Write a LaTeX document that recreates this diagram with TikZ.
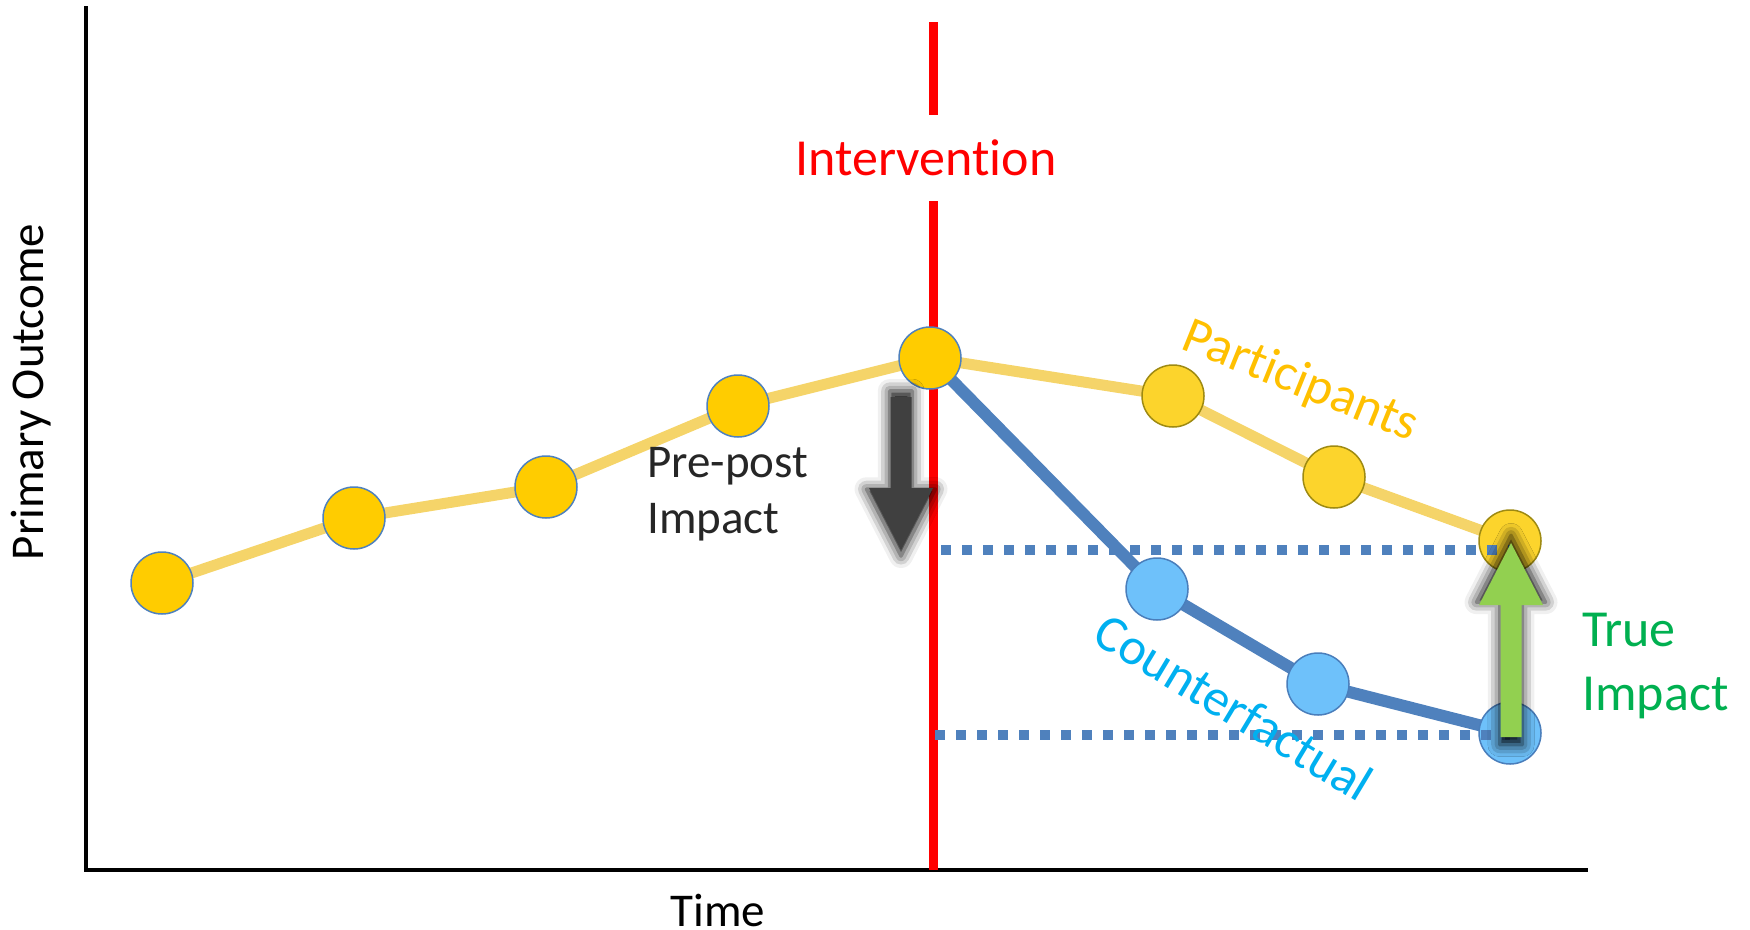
\documentclass[tikz,border=0pt]{standalone}
\usepackage{fontspec}
\setmainfont{Carlito}[Ligatures=NoCommon]
\usetikzlibrary{calc,shadows.blur}

\definecolor{preyellow}{HTML}{FFCC00}
\definecolor{preborder}{HTML}{4F81BD}
\definecolor{postyellow}{HTML}{FCD42C}
\definecolor{postborder}{HTML}{9E8A12}
\definecolor{cfblue}{HTML}{6EC1FA}
\definecolor{cfborder}{HTML}{4A7EBB}
\definecolor{trendline}{HTML}{F5D469}
\definecolor{cfline}{HTML}{4F81BD}
\definecolor{ptlabel}{HTML}{FFC000}
\definecolor{cflabel}{HTML}{00B0F0}
\definecolor{tilabel}{HTML}{00B050}
\definecolor{tiarrow}{HTML}{92D050}
\definecolor{pparrow}{HTML}{404040}

\tikzset{
  dot/.style={circle,minimum size=62pt,inner sep=0pt,line width=1.5pt},
  predot/.style={dot,fill=preyellow,draw=preborder},
  postdot/.style={dot,fill=postyellow,draw=postborder},
  cfdot/.style={dot,fill=cfblue,draw=cfborder},
  biglabel/.style={inner sep=0pt,font=\fontsize{52}{64}\selectfont},
  axlabel/.style={inner sep=0pt,font=\fontsize{47}{56}\selectfont},
  levelline/.style={cfline,line width=10pt,dash pattern=on 10pt off 11pt},
  blockshadow/.style={blur shadow={shadow xshift=0pt,shadow yshift=0pt,shadow scale=1.08,shadow blur radius=11pt,shadow opacity=95}}
}

\begin{document}
\begin{tikzpicture}[x=1pt,y=-1pt]
\useasboundingbox (0,0) rectangle (1750,929);
% axes
\coordinate (O) at (86,870);
\coordinate (ytop) at (86,6);
\coordinate (xend) at (1588,870);
\draw[line width=4.5pt] (ytop) -- (O) -- (xend);
\node[axlabel,rotate=90] (ylab) at (31,392) {Primary Outcome};
\node[axlabel] (xlab) at (718,910) {Time};
% intervention line
\coordinate (rtop) at (933,22);
\coordinate (rbot) at (933,870);
\node[biglabel,text=red,minimum height=86pt] (intv) at (926,158) {Intervention};
\draw[red,line width=9pt] (rtop) -- (rtop |- intv.north);
\draw[red,line width=9pt] (rbot |- intv.south) -- (rbot);
% point positions
\coordinate (p1) at (162,583);
\coordinate (p2) at (354,518);
\coordinate (p3) at (546,487);
\coordinate (p4) at (738,406);
\coordinate (p5) at (930,358);
\coordinate (q1) at (1173,396);
\coordinate (q2) at (1334,477);
\coordinate (q3) at (1510,541);
\coordinate (c1) at (1157,589);
\coordinate (c2) at (1318,684);
\coordinate (c3) at (1510,733);
\draw[trendline,line width=11pt] (p1) -- (p2) -- (p3) -- (p4) -- (p5) -- (q1) -- (q2) -- (q3);
\draw[cfline,line width=12pt] (p5) -- (c1) -- (c2) -- (c3);
% points
\node[predot] (p1) at (p1) {};
\node[predot] (p2) at (p2) {};
\node[predot] (p3) at (p3) {};
\node[predot] (p4) at (p4) {};
\node[predot] (p5) at (p5) {};
\node[postdot] (q1) at (q1) {};
\node[postdot] (q2) at (q2) {};
\node[postdot] (q3) at (q3) {};
\node[cfdot] (c1) at (c1) {};
\node[cfdot] (c2) at (c2) {};
\node[cfdot] (c3) at (c3) {};
% levels
\coordinate (hi) at (941,550);
\coordinate (lo) at (935,735);
\draw[levelline] (hi) -- (hi -| q3);
\draw[levelline] (lo) -- (lo -| c3);
% labels
\node[biglabel,text=ptlabel,rotate=-22] (ptl) at (1300,382) {Participants};
\node[biglabel,text=cflabel,rotate=-31] (cfl) at (1234,707) {Counterfactual};
\node[axlabel,text=black!85,align=left,anchor=north west] (ppl) at (647,447) {Pre-post\\Impact};
\node[biglabel,text=tilabel,align=left,anchor=north west] (til) at (1582,613) {True\\Impact};
% block arrows
\coordinate (pp) at (901,397);
\fill[pparrow,blockshadow] (pp) ++(-10.5,0) -- ++(21,0) -- ++(0,91) -- ++(21.5,0)
  -- ++(-32,62) -- ++(-32,-62) -- ++(21.5,0) -- cycle;
\coordinate (ti) at (1511,737);
\fill[tiarrow,blockshadow] (ti) ++(-10.5,0) -- ++(21,0) -- ++(0,-132) -- ++(21.5,0)
  -- ++(-32,-62) -- ++(-32,62) -- ++(21.5,0) -- cycle;
\end{tikzpicture}
\end{document}
